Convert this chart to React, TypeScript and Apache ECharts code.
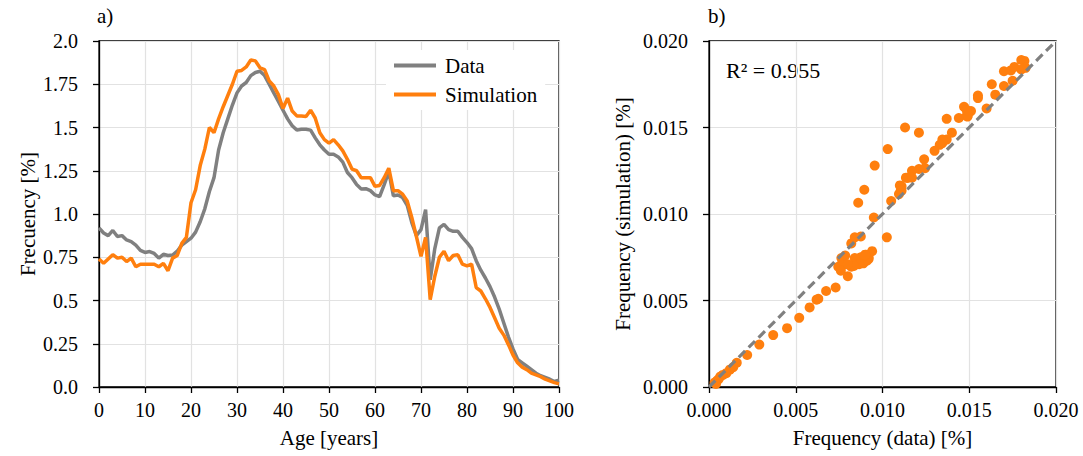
import React, { useEffect, useRef } from "react";
import * as echarts from "echarts";

const ages: number[] = Array.from({ length: 101 }, (_, i) => i);

// Frequency [%] by age — observed data (grey)
const dataPct: number[] = [
  0.92, 0.89, 0.875, 0.905, 0.87, 0.875, 0.85, 0.84, 0.82, 0.79,
  0.778, 0.783, 0.772, 0.745, 0.767, 0.76, 0.763, 0.785, 0.82, 0.84,
  0.86, 0.895, 0.955, 1.03, 1.13, 1.21, 1.37, 1.47, 1.55, 1.63,
  1.70, 1.74, 1.76, 1.80, 1.818, 1.825, 1.80, 1.75, 1.70, 1.65,
  1.60, 1.55, 1.51, 1.485, 1.49, 1.49, 1.485, 1.44, 1.40, 1.37,
  1.345, 1.345, 1.33, 1.30, 1.24, 1.21, 1.17, 1.145, 1.146, 1.135,
  1.11, 1.10, 1.17, 1.245, 1.105, 1.11, 1.095, 1.05, 0.95, 0.875,
  0.91, 1.025, 0.62, 0.80, 0.92, 0.94, 0.91, 0.90, 0.90, 0.865,
  0.835, 0.80, 0.73, 0.675, 0.63, 0.58, 0.52, 0.45, 0.37, 0.29,
  0.22, 0.16, 0.14, 0.12, 0.10, 0.08, 0.065, 0.055, 0.045, 0.032,
  0.04,
];

// Frequency [%] by age — simulation (orange)
const simPct: number[] = [
  0.74, 0.715, 0.74, 0.765, 0.745, 0.75, 0.725, 0.745, 0.695, 0.71,
  0.71, 0.71, 0.71, 0.695, 0.715, 0.672, 0.745, 0.76, 0.83, 0.865,
  1.065, 1.14, 1.28, 1.375, 1.50, 1.47, 1.55, 1.62, 1.685, 1.75,
  1.825, 1.83, 1.85, 1.89, 1.885, 1.845, 1.835, 1.77, 1.74, 1.69,
  1.61, 1.67, 1.595, 1.567, 1.567, 1.563, 1.60, 1.555, 1.47, 1.43,
  1.41, 1.43, 1.40, 1.365, 1.316, 1.26, 1.25, 1.21, 1.21, 1.21,
  1.16, 1.165, 1.21, 1.265, 1.135, 1.135, 1.115, 1.075, 0.98, 0.87,
  0.755, 0.865, 0.505, 0.64, 0.75, 0.785, 0.73, 0.76, 0.765, 0.71,
  0.70, 0.71, 0.575, 0.555, 0.51, 0.46, 0.40, 0.34, 0.30, 0.245,
  0.185, 0.14, 0.115, 0.10, 0.08, 0.07, 0.06, 0.045, 0.035, 0.025,
  0.018,
];

const leftYTicks: number[] = [0, 0.25, 0.5, 0.75, 1.0, 1.25, 1.5, 1.75, 2.0];
const rightTicks: number[] = [0, 0.005, 0.01, 0.015, 0.02];
const identityLine: number[][] = [
  [0, 0],
  [0.02, 0.02],
];
const r2Label = "R² = 0.955";

const FONT = "Liberation Serif";
const FS = 20;
const NAME_FS = 21;
const GREY = "#808080";
const ORANGE = "#ff7f0e";

export default function App() {
  const ref = useRef<HTMLDivElement>(null);

  useEffect(() => {
    if (!ref.current) return;
    const chart = echarts.init(ref.current, undefined, { renderer: "svg" });

    const axisCommon = {
      axisLine: { show: true, lineStyle: { color: "#000", width: 1.3 } },
      axisTick: { show: true, length: 6, lineStyle: { color: "#000", width: 1.3 } },
      splitLine: { show: true, lineStyle: { color: "#e2e2e2", width: 1.2 } },
      nameTextStyle: { fontFamily: FONT, fontSize: NAME_FS, color: "#000" },
    };

    const fmtLeft = (v: number) => {
      const r = Math.round(v * 100);
      return r % 50 === 0 ? v.toFixed(1) : v.toFixed(2);
    };

    const option: any = {
      animation: false,
      backgroundColor: "#fff",
      textStyle: { fontFamily: FONT },
      grid: [
        { left: 99, top: 41, width: 460, height: 346, show: true, borderColor: "#000", borderWidth: 1.3, backgroundColor: "transparent" },
        { left: 709, top: 41, width: 347, height: 346, show: true, borderColor: "#000", borderWidth: 1.3, backgroundColor: "transparent" },
      ],
      xAxis: [
        {
          ...axisCommon,
          gridIndex: 0,
          type: "value",
          min: ages[0],
          max: ages[ages.length - 1],
          interval: 10,
          name: "Age [years]",
          nameLocation: "middle",
          nameGap: 40,
          axisLabel: { fontFamily: FONT, fontSize: FS, color: "#000", margin: 13 },
        },
        {
          ...axisCommon,
          gridIndex: 1,
          type: "value",
          min: rightTicks[0],
          max: rightTicks[rightTicks.length - 1],
          interval: 0.005,
          name: "Frequency (data) [%]",
          nameLocation: "middle",
          nameGap: 40,
          axisLabel: { fontFamily: FONT, fontSize: FS, color: "#000", margin: 13, formatter: (v: number) => v.toFixed(3) },
        },
      ],
      yAxis: [
        {
          ...axisCommon,
          gridIndex: 0,
          type: "value",
          min: leftYTicks[0],
          max: leftYTicks[leftYTicks.length - 1],
          interval: 0.25,
          name: "Frecuency [%]",
          nameLocation: "middle",
          nameGap: 61,
          axisLabel: { fontFamily: FONT, fontSize: FS, color: "#000", margin: 21, formatter: fmtLeft },
        },
        {
          ...axisCommon,
          gridIndex: 1,
          type: "value",
          min: rightTicks[0],
          max: rightTicks[rightTicks.length - 1],
          interval: 0.005,
          name: "Frequency (simulation) [%]",
          nameLocation: "middle",
          nameGap: 76,
          axisLabel: { fontFamily: FONT, fontSize: FS, color: "#000", margin: 21, formatter: (v: number) => v.toFixed(3) },
        },
      ],
      legend: {
        data: [
          { name: "Data", icon: "rect" },
          { name: "Simulation", icon: "rect" },
        ],
        orient: "vertical",
        left: 386,
        top: 50,
        itemWidth: 42,
        itemHeight: 4,
        itemGap: 8,
        padding: [5, 8, 5, 8],
        backgroundColor: "#fff",
        textStyle: { fontFamily: FONT, fontSize: NAME_FS, color: "#000", padding: [0, 0, 0, 4] },
      },
      series: [
        {
          name: "Data",
          type: "line",
          xAxisIndex: 0,
          yAxisIndex: 0,
          data: ages.map((a, i) => [a, dataPct[i]]),
          showSymbol: false,
          symbol: "none",
          color: GREY,
          lineStyle: { color: GREY, width: 3.5 },
          z: 3,
        },
        {
          name: "Simulation",
          type: "line",
          xAxisIndex: 0,
          yAxisIndex: 0,
          data: ages.map((a, i) => [a, simPct[i]]),
          showSymbol: false,
          symbol: "none",
          color: ORANGE,
          lineStyle: { color: ORANGE, width: 3.5 },
          z: 4,
        },
        {
          name: "scatter",
          type: "scatter",
          xAxisIndex: 1,
          yAxisIndex: 1,
          data: dataPct.map((d, i) => [d / 100, simPct[i] / 100]),
          symbolSize: 10,
          itemStyle: { color: ORANGE, opacity: 1 },
          z: 3,
        },
        {
          name: "identity",
          type: "line",
          xAxisIndex: 1,
          yAxisIndex: 1,
          data: identityLine,
          showSymbol: false,
          symbol: "none",
          lineStyle: { color: GREY, width: 3.2, type: [9, 5] },
          z: 5,
        },
      ],
      graphic: [
        { type: "text", left: 97, top: 5, style: { text: "a)", fontFamily: FONT, fontSize: NAME_FS, fill: "#000" } },
        { type: "text", left: 708, top: 5, style: { text: "b)", fontFamily: FONT, fontSize: NAME_FS, fill: "#000" } },
        { type: "text", left: 726, top: 59, style: { text: r2Label, fontFamily: FONT, fontSize: 22, fill: "#000" } },
      ],
    };

    chart.setOption(option);
    return () => chart.dispose();
  }, []);

  return (
    <div
      ref={ref}
      style={{ position: "fixed", left: 0, top: 0, width: 1083, height: 456, background: "#fff" }}
    />
  );
}
